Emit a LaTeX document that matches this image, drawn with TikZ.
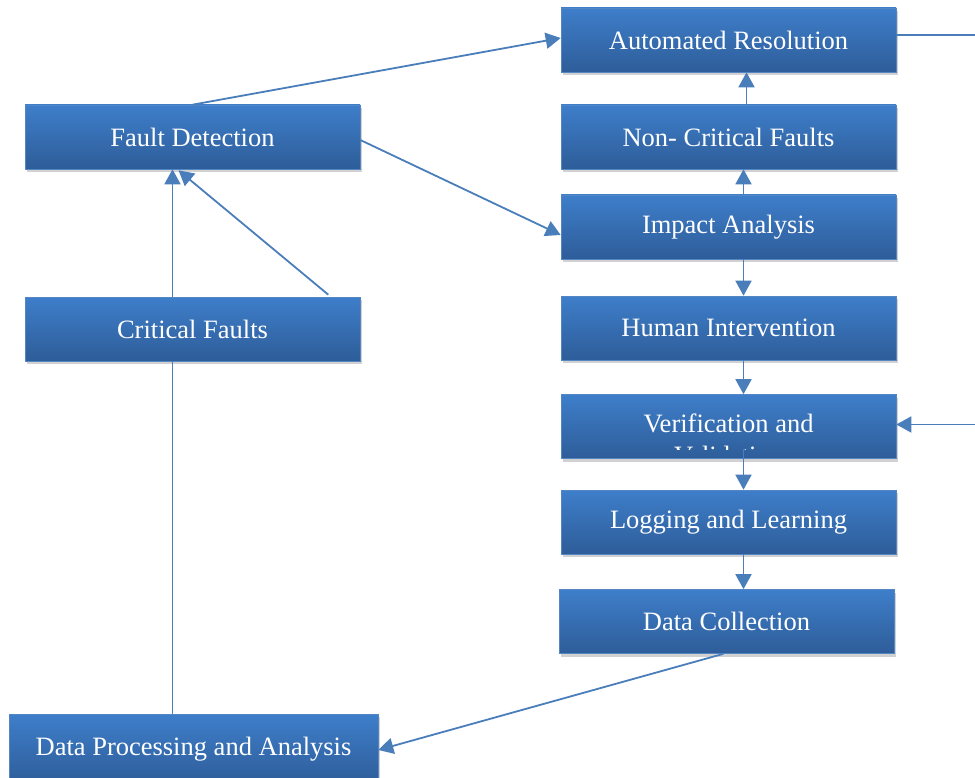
\documentclass[tikz,border=0pt]{standalone}
\usepackage{fontspec}
\setmainfont{Liberation Serif}
\usetikzlibrary{arrows.meta,shadows}
\definecolor{boxtop}{RGB}{62,126,202}
\definecolor{boxbot}{RGB}{46,93,153}
\definecolor{boxedge}{RGB}{84,134,196}
\definecolor{linkc}{RGB}{74,126,187}
\tikzset{
  fbox/.style={rectangle, minimum width=335pt, minimum height=64pt, inner sep=0pt,
    top color=boxtop, bottom color=boxbot, draw=boxedge, line width=0.6pt,
    text=white, font=\fontsize{26.5}{32}\selectfont,
    drop shadow={shadow xshift=2pt, shadow yshift=-3pt, opacity=0.3, fill=black!60}},
  link/.style={draw=linkc, line width=1.8pt},
  arr/.style={link, -{Triangle[length=15pt,width=16pt]}}
}
\begin{document}
\begin{tikzpicture}[x=1pt,y=-1pt]
\useasboundingbox (0,0) rectangle (975,778);
\node[fbox] (AR) at (728.5,40) {Automated Resolution};
\node[fbox] (ND) at (728.5,137) {Non- Critical Faults};
\node[fbox] (IA) at (728.5,227) {Impact Analysis};
\node[fbox] (HI) at (728.5,328) {Human Intervention};
\node[fbox] (VV) at (728.5,426.5) {};
\begin{scope}
\clip (561,396) rectangle (896,449);
\node[text=white, font=\fontsize{26.5}{32}\selectfont, align=center, anchor=north] (VVt) at (728.5,410) {Verification and\\Validation};
\end{scope}
\node[fbox] (LL) at (728.5,522) {Logging and Learning};
\node[fbox] (DC) at (726.5,621.5) {Data Collection};
\node[fbox] (FD) at (192.5,137) {Fault Detection};
\node[fbox] (CF) at (192.5,329) {Critical Faults};
\node[fbox, minimum width=369pt, minimum height=70pt] (DP) at (193.5,749) {Data Processing and Analysis};

\draw[arr] (FD.north) -- ([yshift=2pt]AR.west);
\draw[arr] ([yshift=-3pt]FD.east) -- ([yshift=-8pt]IA.west);
\draw[arr] ([xshift=-20pt]CF.north) -- ([xshift=-20pt]FD.south);
\draw[arr] ([xshift=-32pt,yshift=2pt]CF.north east) -- ([xshift=-14pt,yshift=-1pt]FD.south);
\draw[link] ([xshift=-20pt]CF.south) -- ([xshift=-20pt]CF.south |- DP.north);
\draw[arr] ([xshift=-3pt]DC.south) -- ([yshift=-1pt]DP.east);
\draw[arr] ([xshift=18pt]ND.north) -- ([xshift=18pt]AR.south);
\draw[arr] ([xshift=15pt]IA.north) -- ([xshift=15pt]ND.south);
\draw[arr] ([xshift=15pt]IA.south) -- ([xshift=15pt]HI.north);
\draw[arr] ([xshift=15pt]HI.south) -- ([xshift=15pt]VV.north);
\draw[arr] ([xshift=15pt,yshift=10pt]VV.south) -- ([xshift=15pt]LL.north);
\draw[arr] ([xshift=15pt]LL.south) -- ([xshift=15pt]LL.south |- DC.north);
\draw[arr] ([yshift=5pt]AR.east) -- ++(120,0) |- ([yshift=2pt]VV.east);
\end{tikzpicture}
\end{document}
